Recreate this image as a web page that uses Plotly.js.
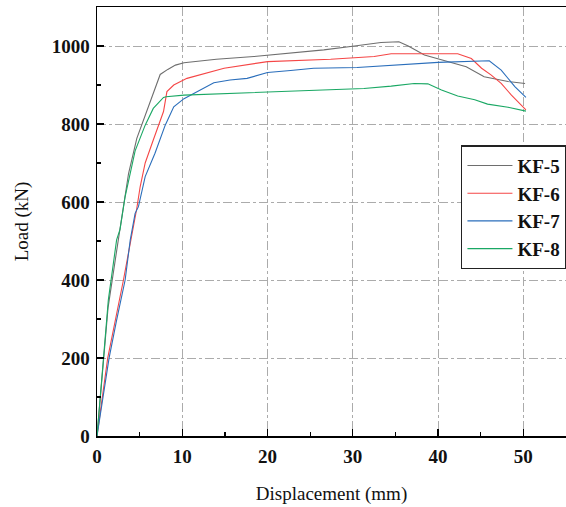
<!DOCTYPE html>
<html>
<head>
<meta charset="utf-8">
<script src="https://cdn.plot.ly/plotly-3.0.1.min.js"></script>
<style>html,body{margin:0;padding:0;background:#fff;}#chart{width:566px;height:507px;}</style>
</head>
<body>
<div id="chart"></div>
<script>
var seriesNames = ['KF-5', 'KF-6', 'KF-7', 'KF-8'];

var kf5Disp = [0, 0.5, 1.3, 2.5, 3.7, 4.67, 7.41, 8.3, 9.2, 10.2, 14, 18.4, 22.7, 26.6, 30.2, 33.3, 35.4, 36.5, 38.4, 40.4, 43.3, 45.4, 48.2, 50.2];
var kf5Load = [0, 120, 330, 503, 673, 763, 927, 940, 951, 957, 966, 973, 981, 990, 1000, 1009, 1011, 1000, 977, 964, 947, 921, 909, 904];

var kf6Disp = [0, 1.25, 3.1, 4.0, 4.67, 5.06, 5.65, 6.6, 7.8, 8.2, 9.0, 10.55, 14.9, 20, 27.4, 32.5, 34.5, 42.3, 43.9, 45.1, 46.2, 47.4, 48.6, 50.3];
var kf6Load = [0, 199, 400, 503, 584, 639, 700, 759, 832, 883, 900, 917, 943, 960, 966, 973, 980, 980, 968, 943, 926, 904, 874, 836];

var kf7Disp = [0, 0.75, 1.41, 2.3, 3.3, 3.9, 4.47, 4.86, 5.65, 6.8, 8.0, 9.0, 10.2, 13.7, 15.6, 17.6, 20, 22.7, 25.4, 30.5, 34.5, 40, 46, 47.4, 49, 50.3];
var kf7Load = [0, 110, 199, 297, 400, 503, 571, 588, 665, 725, 797, 844, 865, 906, 913, 917, 932, 937, 943, 945, 951, 958, 962, 938, 896, 868];

var kf8Disp = [0, 0.24, 0.74, 1.33, 2.3, 2.7, 3.3, 4.47, 5.65, 6.6, 7.8, 8.1, 10.2, 22.7, 25.4, 31.3, 34.5, 37.2, 38.8, 40.4, 42.3, 44.3, 45.8, 48.2, 50.3];
var kf8Load = [0, 67, 186, 349, 503, 530, 614, 731, 797, 840, 868, 870, 874, 883, 885, 891, 897, 904, 903, 887, 872, 862, 851, 843, 833];

var xTickVals = [0, 10, 20, 30, 40, 50];
var yTickVals = [0, 200, 400, 600, 800, 1000];

var colors = ['#6e6e6e', '#f54646', '#2a6ebb', '#1aa864'];
var xs = [kf5Disp, kf6Disp, kf7Disp, kf8Disp];
var ys = [kf5Load, kf6Load, kf7Load, kf8Load];

var traces = seriesNames.map(function (n, i) {
  return {
    x: xs[i], y: ys[i], name: n, type: 'scatter', mode: 'lines',
    line: {color: colors[i], width: 1.1}
  };
});

var serif = 'Liberation Serif';

var layout = {
  width: 566, height: 507,
  margin: {l: 97, r: 0, t: 7, b: 71, autoexpand: false},
  paper_bgcolor: '#fff', plot_bgcolor: '#fff',
  showlegend: true,
  xaxis: {
    automargin: false,
    range: [0, 55], tickvals: xTickVals, ticks: 'inside', ticklen: 7, tickwidth: 1.2, tickcolor: '#000',
    showline: true, linecolor: '#000', linewidth: 1.5, mirror: true, zeroline: false,
    showgrid: true, gridcolor: '#ababab', griddash: 'dashdot', gridwidth: 1,
    minor: {dtick: 5, tick0: 0, ticks: 'inside', ticklen: 4, tickcolor: '#000', showgrid: false},
    tickfont: {family: serif, size: 19, color: '#111', weight: 'bold'},
    ticklabelstandoff: 3,
    title: {text: 'Displacement (mm)', font: {family: serif, size: 19, color: '#111'}, standoff: 20}
  },
  yaxis: {
    automargin: false,
    range: [0, 1100], tickvals: yTickVals, ticks: 'inside', ticklen: 7, tickwidth: 1.2, tickcolor: '#000',
    showline: true, linecolor: '#000', linewidth: 1.5, zeroline: false,
    showgrid: true, gridcolor: '#ababab', griddash: 'dashdot', gridwidth: 1,
    minor: {dtick: 100, tick0: 0, ticks: 'inside', ticklen: 4, tickcolor: '#000', showgrid: false},
    tickfont: {family: serif, size: 19, color: '#111', weight: 'bold'},
    ticklabelstandoff: 2,
    title: {text: 'Load (kN)', font: {family: serif, size: 19, color: '#111'}, standoff: 18}
  },
  legend: {
    x: 0.776, y: 0.678, xanchor: 'left', yanchor: 'top',
    bgcolor: '#fff', bordercolor: '#222', borderwidth: 1.5,
    font: {family: serif, size: 19, color: '#111', weight: 'bold'},
    itemwidth: 45, tracegroupgap: 0
  }
};

Plotly.newPlot('chart', traces, layout, {displayModeBar: false, staticPlot: true});
</script>
</body>
</html>
